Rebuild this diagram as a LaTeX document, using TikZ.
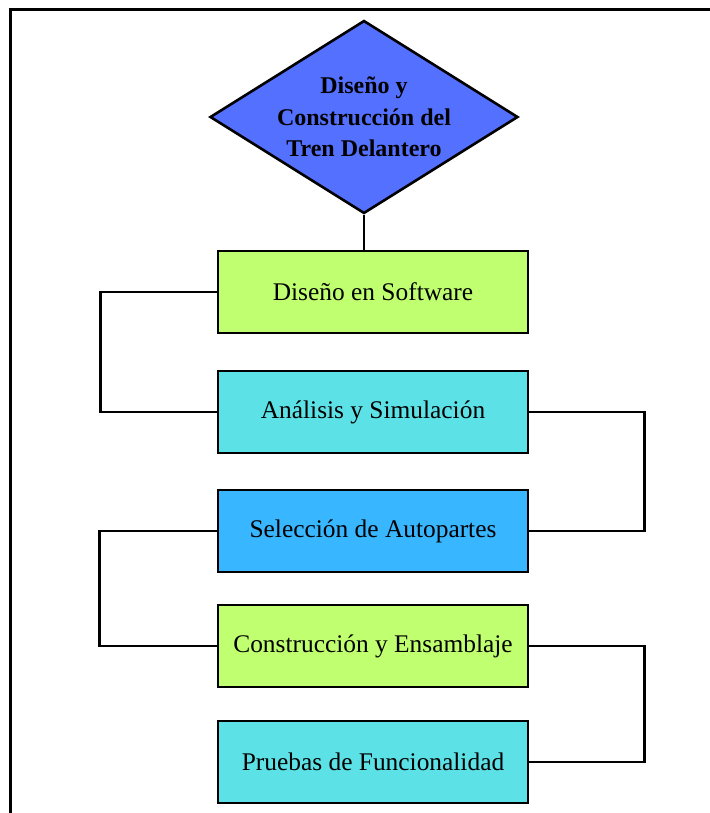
\documentclass[tikz,border=0pt]{standalone}
\usepackage{fontspec}
\setmainfont{Liberation Serif}
\usetikzlibrary{shapes.geometric}
\definecolor{azulrombo}{RGB}{84,112,255}
\definecolor{verde}{RGB}{192,255,112}
\definecolor{celeste}{RGB}{92,225,230}
\definecolor{azul}{RGB}{56,182,255}
\tikzset{
  caja/.style={draw, line width=1.4pt, minimum width=155pt, minimum height=41pt,
    inner sep=0pt, font=\fontsize{12.7}{15}\selectfont},
  rombo/.style={diamond, draw, line width=1.3pt, fill=azulrombo, aspect=1.6,
    inner sep=-2pt, minimum width=154pt, minimum height=96.5pt, align=center,
    font=\fontsize{12}{15.75}\selectfont\bfseries}
}
\begin{document}
\begin{tikzpicture}[x=0.5pt,y=-0.5pt]
      \useasboundingbox (0,0) rectangle (710,813);
      \draw[line width=1.5pt] (10,813) -- (10,10) -- (710,10);
      \draw
        (364,117) node[rombo] (0){Diseño y\\Construcción del\\Tren Delantero}
        (373,292) node[caja, fill=verde] (1){Diseño en Software}
        (373,412) node[caja, fill=celeste] (2){Análisis y Simulación}
        (373,531) node[caja, fill=azul] (3){Selección de Autopartes}
        (373,646) node[caja, fill=verde] (4){Construcción y Ensamblaje}
        (373,762) node[caja, fill=celeste] (5){Pruebas de Funcionalidad};
      \begin{scope}[line width=1.2pt]
        \draw (0.south) to (0.south |- 1.north);
        \draw (1.west) -- ++(-116,0) |- (2.west);
        \draw (2.east) -- ++(115,0) |- (3.east);
        \draw (3.west) -- ++(-117,0) |- (4.west);
        \draw (4.east) -- ++(115,0) |- (5.east);
      \end{scope}
    \end{tikzpicture}
\end{document}
